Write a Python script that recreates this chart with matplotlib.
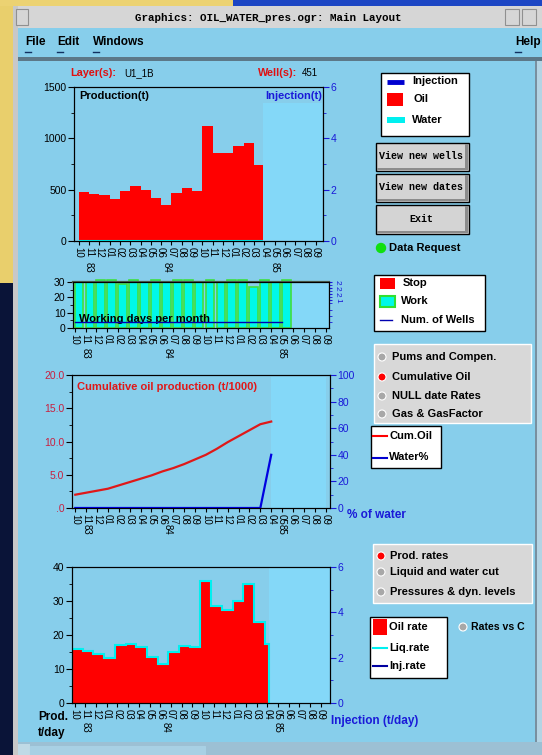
import numpy as np
import matplotlib
matplotlib.use('Agg')
import matplotlib.pyplot as plt
from matplotlib.patches import Rectangle, Circle

plt.rcParams['font.family'] = ['Liberation Sans', 'DejaVu Sans']

W, H = 542, 755
SKY = '#87ceeb'
LIGHT = '#84d8f8'
BLUE = '#1a1ad8'

# months on the x axes (10/83 .. 09/85)
months = ['10', '11', '12', '01', '02', '03', '04', '05', '06', '07', '08', '09',
          '10', '11', '12', '01', '02', '03', '04', '05', '06', '07', '08', '09']
years = ['83', '83', '83',
         '84', '84', '84', '84', '84', '84', '84', '84', '84', '84', '84', '84',
         '85', '85', '85', '85', '85', '85', '85', '85', '85']

# monthly production (t) and water (t)
oil_t = [480, 460, 450, 410, 490, 540, 500, 420, 350, 470, 520, 490,
         1120, 860, 860, 930, 950, 740]
water_t = [0, 0, 0, 0, 0, 0, 0, 0, 0, 0, 0, 0, 0, 0, 0, 0, 0, 0]
prod_end = 17.87

# working days per month, number of wells
work_days = [30, 30, 31, 31, 29, 31, 30, 31, 30, 31, 31, 30,
             31, 30, 31, 31, 27, 31, 30, 31]
n_wells = [1, 1, 1, 1, 1, 1, 1, 1, 1, 1, 1, 1, 1, 1, 1, 1, 1, 1, 1, 1]

# cumulative oil (t/1000) and water cut (%)
cum_oil = [2.0, 2.3, 2.6, 2.9, 3.4, 3.9, 4.4, 4.9, 5.5, 6.0, 6.6, 7.3,
           8.0, 8.9, 9.9, 10.8, 11.7, 12.6, 13.0]
water_pct = [0, 0, 0, 0, 0, 0, 0, 0, 0, 0, 0, 0, 0, 0, 0, 0, 0, 0, 40]

# daily rates (t/day)
oil_rate = [16.0, 15.2, 14.3, 13.1, 17.0, 17.3, 16.5, 13.5, 11.5, 15.0, 16.8, 16.5,
            36.0, 28.5, 27.5, 30.0, 35.0, 23.8, 17.5]
liq_rate = [16.0, 15.2, 14.3, 13.1, 17.0, 17.3, 16.5, 13.5, 11.5, 15.0, 16.8, 16.5,
            36.0, 28.5, 27.5, 30.0, 35.0, 23.8, 17.5]
rate_end = 18.12


fig = plt.figure(figsize=(W / 100, H / 100), dpi=100)
fig.patch.set_facecolor(SKY)

# ---- window decorations, drawn in pixel coordinates ----
bg = fig.add_axes([0, 0, 1, 1])
bg.set_xlim(0, W)
bg.set_ylim(H, 0)
bg.axis('off')


def box(x0, y0, x1, y1, **kw):
    bg.add_patch(Rectangle((x0, y0), x1 - x0, y1 - y0, **kw))


box(0, 0, 13, 283, color='#e9cf6c', lw=0)
box(0, 283, 13, H, color='#0a1438', lw=0)
box(0, 0, 233, 6, color='#ecd272', lw=0)
box(233, 0, W, 6, color='#1c46c4', lw=0)
box(13, 6, W, 28, color='#d6d6d6', lw=0)
box(13, 6, 18, H, color='#c8c8c8', lw=0)
box(16, 9, 28, 25, facecolor='#d6d6d6', edgecolor='#909090', lw=0.8)
box(505, 9, 519, 25, facecolor='#d6d6d6', edgecolor='#909090', lw=0.8)
box(522, 9, 536, 25, facecolor='#d6d6d6', edgecolor='#909090', lw=0.8)
box(18, 28, W, 57, color=SKY, lw=0)
box(18, 57, W, 61, color='#5c7888', lw=0)
box(535, 61, 537, 742, color='#7890a0', lw=0)
box(537, 61, W, 742, color='#b4d4e4', lw=0)
box(18, 742, W, H, color='#9cc0d4', lw=0)
box(18, 744, 30, H, color='#c0dae6', lw=0)
box(30, 746, 205, H, color='#a8d0e4', edgecolor='#d8ecf4', lw=0.8)

bg.text(268, 18, 'Graphics: OIL_WATER_pres.ogr: Main Layout', ha='center', va='center',
        family='Liberation Mono', weight='bold', fontsize=7.8)
for x, s in [(25, 'File'), (57, 'Edit'), (93, 'Windows'), (515, 'Help')]:
    bg.text(x, 42, s, va='center', weight='bold', fontsize=8.5)
    bg.plot([x, x + 6], [52, 52], color='#103060', lw=1)

# ---- right-hand widgets ----
def legend_box(x0, y0, x1, y1):
    box(x0, y0, x1, y1, facecolor='white', edgecolor='black', lw=1)


legend_box(381, 73, 469, 136)
bg.plot([387, 404], [82, 82], color='#0000d0', lw=3.5, solid_capstyle='butt')
box(387, 93, 403, 106, color='red', lw=0)
box(387, 117, 405, 123, color='#00f0f0', lw=0)
bg.text(412, 81, 'Injection', va='center', weight='bold', fontsize=8)
bg.text(413, 99, 'Oil', va='center', weight='bold', fontsize=8)
bg.text(412, 120, 'Water', va='center', weight='bold', fontsize=8)

for y0, y1, s in [(143, 171, 'View new wells'), (174, 202, 'View new dates'), (205, 234, 'Exit')]:
    box(376, y0, 469, y1, facecolor='#d4d4d4', edgecolor='black', lw=1)
    box(377, y1 - 3, 468, y1 - 1, color='#8c8c8c', lw=0)
    box(465, y0 + 1, 468, y1 - 1, color='#8c8c8c', lw=0)
    bg.text(421, (y0 + y1) / 2 - 1, s, ha='center', va='center',
            family='Liberation Mono', weight='bold', fontsize=7.2)

bg.add_patch(Circle((381, 248), 4.5, color='#10e010'))
bg.text(389, 248, 'Data Request', va='center', weight='bold', fontsize=8)

legend_box(374, 275, 485, 331)
box(380, 278, 395, 289, color='red', lw=0)
box(380, 296, 395, 307, facecolor='#00f8e8', edgecolor='#30e030', lw=1.5)
bg.plot([380, 392], [320, 320], color='#0000b0', lw=1)
bg.text(403, 283, 'Stop', va='center', weight='bold', fontsize=8)
bg.text(401, 301, 'Work', va='center', weight='bold', fontsize=8)
bg.text(401, 320, 'Num. of Wells', va='center', weight='bold', fontsize=8)


def radio(x, y, on):
    bg.add_patch(Circle((x, y), 4, facecolor='red' if on else '#a8a8a8',
                        edgecolor='white', lw=0.8))


box(374, 344, 531, 423, facecolor='#d8d8d8', edgecolor='white', lw=1)
for y, s, on in [(357, 'Pums and Compen.', False), (377, 'Cumulative Oil', True),
                 (396, 'NULL date Rates', False), (414, 'Gas & GasFactor', False)]:
    radio(382, y, on)
    bg.text(392, y, s, va='center', weight='bold', fontsize=8)

legend_box(371, 426, 441, 468)
bg.plot([373, 387], [436, 436], color='red', lw=1.5)
bg.plot([373, 387], [458, 458], color='#0000d0', lw=1.5)
bg.text(389, 436, 'Cum.Oil', va='center', weight='bold', fontsize=8)
bg.text(389, 457, 'Water%', va='center', weight='bold', fontsize=8)

box(373, 544, 532, 603, facecolor='#d8d8d8', edgecolor='white', lw=1)
for y, s, on in [(556, 'Prod. rates', True), (572, 'Liquid and water cut', False),
                 (592, 'Pressures & dyn. levels', False)]:
    radio(381, y, on)
    bg.text(390, y, s, va='center', weight='bold', fontsize=8)

legend_box(370, 617, 447, 678)
box(373, 619, 387, 635, color='red', lw=0)
bg.plot([373, 387], [648, 648], color='#00f0f0', lw=1.5)
bg.plot([373, 387], [666, 666], color='#0000a0', lw=1.5)
bg.text(389, 627, 'Oil rate', va='center', weight='bold', fontsize=8)
bg.text(389, 648, 'Liq.rate', va='center', weight='bold', fontsize=8)
bg.text(389, 666, 'Inj.rate', va='center', weight='bold', fontsize=8)
radio(463, 627, False)
bg.text(471, 627, 'Rates vs C', va='center', weight='bold', fontsize=7.6)

# ---- charts ----
idx = np.arange(len(months))
year_names = list(dict.fromkeys(years))
year_pos = [np.mean([i for i, y in enumerate(years) if y == n]) for n in year_names]


def chart(x0, y0, x1, y1, xlim, ydown=24):
    ax = fig.add_axes([x0 / W, 1 - y1 / H, (x1 - x0) / W, (y1 - y0) / H])
    ax.set_facecolor('none')
    ax.set_xlim(*xlim)
    ax.set_xticks(idx)
    ax.set_xticklabels(months, rotation=270, fontsize=7)
    ax.tick_params(axis='x', length=3, pad=1.5)
    ax.tick_params(axis='y', which='major', length=4, labelsize=7.5, pad=1.5)
    ax.tick_params(axis='y', which='minor', length=2.5)
    for n, p in zip(year_names, year_pos):
        ax.annotate(n, (p, 0), xycoords=('data', 'axes fraction'),
                    xytext=(0, -ydown * 0.72), textcoords='offset points',
                    rotation=270, ha='center', va='center', fontsize=7)
    return ax


def right_axis(ax, top, step, fmt='%d'):
    r = ax.twinx()
    r.set_ylim(0, top)
    r.set_yticks(np.arange(0, top + 0.01, step))
    r.set_yticks(np.arange(step / 2, top, step), minor=True)
    r.set_yticklabels([fmt % v for v in np.arange(0, top + 0.01, step)])
    r.tick_params(axis='y', which='major', length=4, labelsize=7.5, pad=1.5,
                  colors=BLUE)
    r.tick_params(axis='y', which='minor', length=2.5, colors=BLUE)
    return r


# 1 - monthly production
ax1 = chart(74, 87, 323, 241, (-0.45, 23.7), ydown=26)
xlo, xhi = ax1.get_xlim()
ax1.axvspan(prod_end, xhi - 0.05, ymax=(241 - 103) / (241 - 87), color=LIGHT, lw=0)
edges = np.minimum(np.arange(len(oil_t) + 1), prod_end)
ax1.stairs(oil_t, edges, fill=True, color='red')
ax1.stairs(water_t, edges, color='#00f0f0', lw=1.5)
ax1.set_ylim(0, 1500)
ax1.set_yticks([0, 500, 1000, 1500])
ax1.set_yticks([250, 750, 1250], minor=True)
right_axis(ax1, 6, 2)
ax1.text(0.02, 0.94, 'Production(t)', transform=ax1.transAxes, weight='bold',
         fontsize=8, va='center')
ax1.text(0.995, 0.94, 'Injection(t)', transform=ax1.transAxes, weight='bold',
         fontsize=8, va='center', ha='right', color=BLUE)
bg.text(70, 73, 'Layer(s):', color='#e01010', weight='bold', fontsize=7.8, va='center')
bg.text(124, 73, 'U1_1B', fontsize=7, va='center')
bg.text(258, 73, 'Well(s):', color='#e01010', weight='bold', fontsize=7.8, va='center')
bg.text(302, 73, '451', fontsize=7, va='center')

# 2 - working days
ax2 = chart(73, 282, 329, 328, (-0.15, 23.3), ydown=25)
wd_x = np.arange(len(work_days))
xlo, xhi = ax2.get_xlim()
ax2.axvspan(len(work_days) - 0.05, xhi - 0.05, color=LIGHT, lw=0)
ax2.bar(wd_x, work_days, width=0.8, align='edge', color='#00f8e8',
        edgecolor='#40e040', lw=1.2, clip_on=False)
ax2.set_ylim(0, 30)
ax2.set_yticks([0, 10, 20, 30])
ax2.set_yticks([5, 15, 25], minor=True)
ax2.spines['top'].set_color('#4a5a4a')
ax2.spines['top'].set_linewidth(1.6)
ax2r = ax2.twinx()
ax2r.set_ylim(0, 7.5)
ax2r.plot(wd_x, n_wells, color='#0000b0', lw=1, drawstyle='steps-post')
ax2r.set_yticks([4.5, 5.5, 6.5, 7.5])
ax2r.set_yticklabels(['1', '2', '2', '2'], rotation=270, fontsize=6)
ax2r.set_yticks([1, 2, 3, 4, 5, 6, 7], minor=True)
ax2r.tick_params(axis='y', which='both', colors=BLUE, length=2.5, pad=1)
ax2.text(0.025, 0.2, 'Working days per month', transform=ax2.transAxes,
         weight='bold', fontsize=8, va='center')

# 3 - cumulative oil and water cut
ax3 = chart(72, 375, 330, 508, (-0.3, 23.4), ydown=21)
xlo, xhi = ax3.get_xlim()
cx = np.arange(len(cum_oil))
ax3.axvspan(cx[-1], xhi - 0.35, ymax=0.985, color=LIGHT, lw=0)
ax3.plot(cx, cum_oil, color='#e01818', lw=1.6)
ax3.set_ylim(0, 20)
ax3.set_yticks([0, 5, 10, 15, 20])
ax3.set_yticklabels(['.0', '5.0', '10.0', '15.0', '20.0'], color='#c82040')
ax3.set_yticks([2.5, 7.5, 12.5, 17.5], minor=True)
r3 = right_axis(ax3, 100, 20)
r3.set_yticks(np.arange(10, 100, 10), minor=True)
r3.plot(np.arange(len(water_pct)), water_pct, color='#0000e0', lw=1.6)
ax3.text(0.02, 0.91, 'Cumulative oil production (t/1000)', transform=ax3.transAxes,
         color='#e01818', weight='bold', fontsize=8, va='center')
bg.text(347, 515, '% of water', color=BLUE, weight='bold', fontsize=8.5, va='center')

# 4 - daily rates
ax4 = chart(72, 567, 330, 703, (-0.25, 23.85), ydown=24)
xlo, xhi = ax4.get_xlim()
ax4.axvspan(rate_end, xhi, color=LIGHT, lw=0)
redges = np.minimum(np.arange(len(oil_rate) + 1) - 0.25, rate_end)
ax4.stairs(oil_rate, redges, fill=True, color='red')
ax4.stairs(liq_rate, redges, color='#00f0f0', lw=1.5)
ax4.set_ylim(0, 40)
ax4.set_yticks([0, 10, 20, 30, 40])
ax4.set_yticks([5, 15, 25, 35], minor=True)
right_axis(ax4, 6, 2)
bg.text(38, 717, 'Prod.', weight='bold', fontsize=8.5, va='center')
bg.text(38, 733, 't/day', weight='bold', fontsize=8.5, va='center')
bg.text(331, 721, 'Injection (t/day)', color=BLUE, weight='bold', fontsize=8.5, va='center')

fig.savefig('out.png', dpi=100, facecolor=fig.get_facecolor())
